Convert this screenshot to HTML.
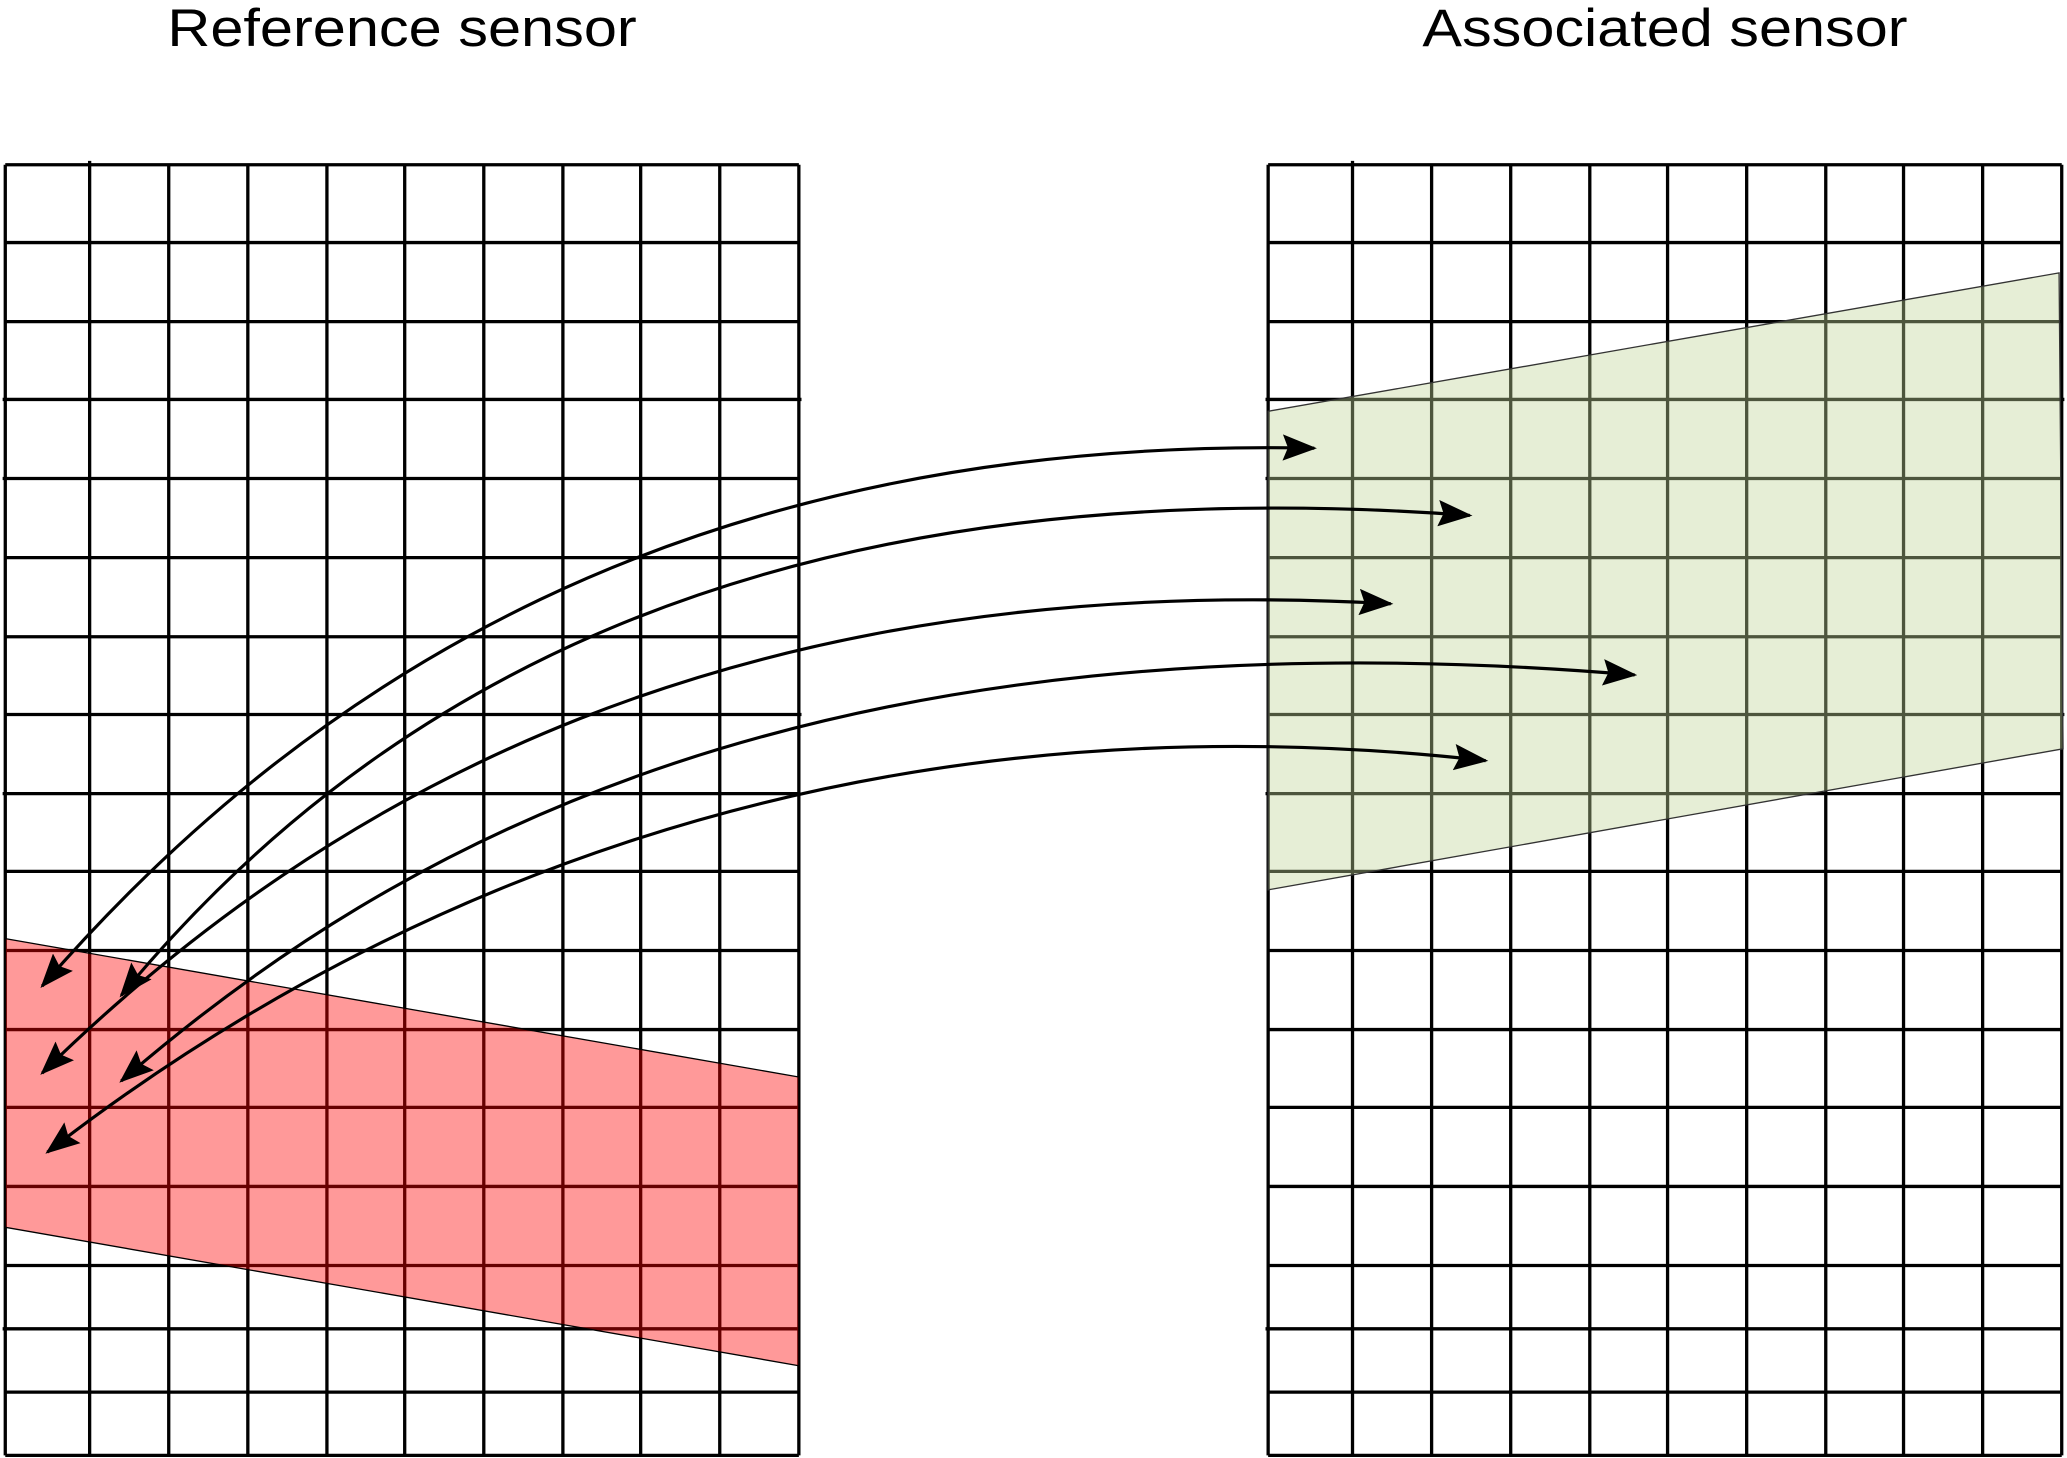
<!DOCTYPE html>
<html><head><meta charset="utf-8"><style>
html,body{margin:0;padding:0;background:#fff;}
svg{display:block;}
</style></head><body>
<svg width="2067" height="1458" viewBox="0 0 1568 1106" preserveAspectRatio="none" xmlns="http://www.w3.org/2000/svg">
<defs>
<marker id="a2" viewBox="0 0 26 20" refX="24" refY="10" markerWidth="26" markerHeight="20" markerUnits="userSpaceOnUse" orient="auto-start-reverse">
<path d="M0,0 L26,10 L0,20 L4,10 z" fill="#000"/>
</marker>
</defs>
<rect width="1568" height="1106" fill="#fff"/>
<text x="305" y="35" font-family="Liberation Sans, sans-serif" font-size="40" text-anchor="middle" fill="#000" textLength="356" lengthAdjust="spacingAndGlyphs">Reference sensor</text>
<text x="1263" y="35" font-family="Liberation Sans, sans-serif" font-size="40" text-anchor="middle" fill="#000" textLength="368" lengthAdjust="spacingAndGlyphs">Associated sensor</text>
<g stroke="#000" stroke-width="2.5" fill="none">
<path id="grid" d="
M4,125V1104 M68,122V1104 M128,125V1104 M188,125V1104 M248,125V1104 M307,125V1104 M367,125V1104 M427,125V1104 M486,125V1104 M546,125V1104 M606,125V1104
M4,125H606 M4,184H606 M4,244H606 M2,303H608 M2,363H606 M4,423H606 M4,483H606 M4,542H608 M2,602H606 M4,661H606 M4,721H606 M4,781H606 M4,840H606 M4,900H606 M4,960H606 M2,1008H606 M4,1056H606 M4,1104H606"/>
<use href="#grid" transform="translate(958,0)"/>
</g>
<polygon points="4,712 606,817 606,1036 4,931" fill="rgb(255,0,0)" fill-opacity="0.4" stroke="#000" stroke-width="1"/>
<polygon points="962,312 1562,207 1565,568 962,675" fill="rgb(192,212,152)" fill-opacity="0.4" stroke="#333" stroke-width="1"/>
<g stroke="#000" stroke-width="2.4" fill="none" marker-start="url(#a2)" marker-end="url(#a2)">
<path d="M32,748 C230,520 520,330 997,340"/>
<path d="M92,755 C270,540 560,350 1115,391"/>
<path d="M32,814 C250,600 560,430 1055,458"/>
<path d="M92,820 C300,640 620,460 1240,512"/>
<path d="M36,874 C260,700 620,520 1127,577"/>
</g>
</svg>
</body></html>
